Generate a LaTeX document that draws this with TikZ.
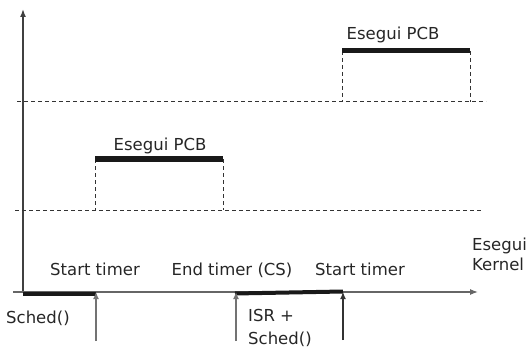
\documentclass[tikz,border=0pt]{standalone}
\usepackage{fontspec}
\setmainfont{DejaVu Sans}
\usetikzlibrary{arrows.meta}
\begin{document}
\begin{tikzpicture}[x=1pt,y=-1pt,
  lbl/.style={text=black!85,font=\fontsize{16.5}{19}\selectfont,inner sep=0pt},
  yaxis/.style={draw=black!75,line width=1.5pt,-{Latex[length=8pt,width=6pt]}},
  xaxis/.style={draw=black!60,line width=1.2pt,-{Latex[length=8pt,width=6pt]}},
  dashline/.style={draw=black!80,line width=1pt,dash pattern=on 4pt off 3pt},
  bar/.style={draw=black!90,line width=5pt},
  kbar/.style={draw=black!90,line width=4pt},
  uparrow/.style={draw=black!55,line width=1.2pt,-{Latex[length=7pt,width=6pt]}},
  uparrowdark/.style={draw=black!80,line width=1.2pt,-{Latex[length=7pt,width=6pt]}}]
\useasboundingbox (0,0) rectangle (530,350);

% axes
\coordinate (O) at (23,292);
\coordinate (Ytop) at (23,9);
\coordinate (Xl) at (13,292);
\coordinate (Xr) at (478,292);
\draw[yaxis] (O) -- (Ytop);
\draw[xaxis] (Xl) -- (Xr);

% dashed levels
\coordinate (H1l) at (17,102);
\coordinate (H1r) at (486,102);
\coordinate (H2l) at (15,210);
\coordinate (H2r) at (483,210);
\draw[dashline] (H1l) -- (H1r);
\draw[dashline] (H2l) -- (H2r);

% lower PCB
\coordinate (L1) at (95,159);
\coordinate (L2) at (223,159);
\coordinate (L1b) at (95,210);
\coordinate (L2b) at (223,210);
\draw[dashline] (L1) -- (L1b);
\draw[dashline] (L2) -- (L2b);
\draw[bar] (L1) -- (L2);
\node[lbl,anchor=base] (pcb1) at (160,150) {Esegui PCB};

% upper PCB
\coordinate (U1) at (342,51);
\coordinate (U2) at (470,51);
\coordinate (U1b) at (342,102);
\coordinate (U2b) at (470,102);
\draw[dashline] (U1) -- (U1b);
\draw[dashline] (U2) -- (U2b);
\draw[bar] (U1) -- (U2);
\node[lbl,anchor=base] (pcb2) at (393,40) {Esegui PCB};

% kernel segments
\coordinate (K1a) at (23,293.5);
\coordinate (K1b) at (96,293.5);
\coordinate (K2a) at (235,293.5);
\coordinate (K2b) at (343,291.5);
\draw[kbar] (K1a) -- (K1b);
\draw[kbar] (K2a) -- (K2b);

% up arrows
\coordinate (A1s) at (96,341);
\coordinate (A1e) at (96,292);
\coordinate (A2s) at (236,341);
\coordinate (A2e) at (236,292);
\coordinate (A3s) at (343,340);
\coordinate (A3e) at (343,292);
\draw[uparrow] (A1s) -- (A1e);
\draw[uparrow] (A2s) -- (A2e);
\draw[uparrowdark] (A3s) -- (A3e);

% labels
\node[lbl,anchor=base] (st1) at (95,275) {Start timer};
\node[lbl,anchor=base] (et) at (232,275) {End timer (CS)};
\node[lbl,anchor=base] (st2) at (360,275) {Start timer};
\node[lbl,anchor=base west] (ek1) at (472,250) {Esegui};
\node[lbl,anchor=base west] (ek2) at (472,270) {Kernel};
\node[lbl,anchor=base west] (sch1) at (6,323) {Sched()};
\node[lbl,anchor=base west] (isr) at (248,321) {ISR +};
\node[lbl,anchor=base west] (sch2) at (248,344) {Sched()};
\end{tikzpicture}
\end{document}
